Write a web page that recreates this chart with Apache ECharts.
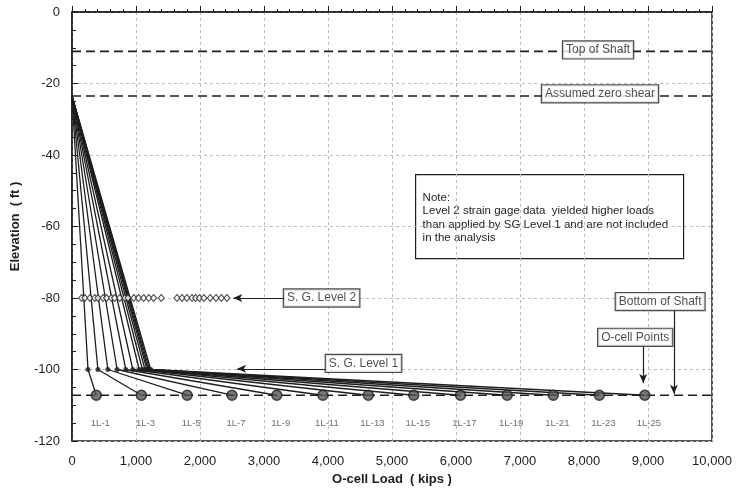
<!DOCTYPE html>
<html>
<head>
<meta charset="utf-8">
<script src="https://cdn.jsdelivr.net/npm/echarts@6/dist/echarts.min.js"></script>
<style>
  html, body { margin: 0; padding: 0; background: #fff; }
  #chart { width: 747px; height: 491px; }
</style>
</head>
<body>
<div id="chart"></div>
<script>
// Load test steps (odd-numbered loadings)
const loadTests = ['1L-1', '1L-3', '1L-5', '1L-7', '1L-9', '1L-11', '1L-13',
                   '1L-15', '1L-17', '1L-19', '1L-21', '1L-23', '1L-25'];
// Load at strain gage level 1 (kips)
const sgLevel1Load = [250, 405, 560, 705, 840, 950, 1050, 1100, 1140, 1170, 1190, 1210, 1230];
// Applied O-cell load (kips)
const oCellLoad = [380, 1085, 1800, 2500, 3200, 3920, 4630, 5340, 6070, 6800, 7520, 8240, 8950];
// Loads computed at strain gage level 2 (kips)
const sgLevel2Load = [150, 200, 280, 355, 405, 485, 540, 615, 665, 745, 825, 875, 965, 1040,
                      1120, 1200, 1275, 1395, 1640, 1720, 1795, 1875, 1930, 1990, 2060, 2160,
                      2250, 2335, 2420];

// Elevations (ft)
const elevTopShaft = -11;
const elevZeroShear = -23.5;
const elevSG2 = -80;
const elevSG1 = -100;
const elevOCell = -107.2;

// Axis ranges
const xAxisRange = [0, 10000];
const yAxisRange = [-120, 0];

const ink = '#1e1e1e';
const font = 'Arial, "Liberation Sans", sans-serif';

const chart = echarts.init(document.getElementById('chart'), null, { renderer: 'canvas' });

function refLine(y) {
  return {
    type: 'line', silent: true, symbol: 'none', z: 3,
    data: [[xAxisRange[0], y], [xAxisRange[1], y]],
    lineStyle: { color: ink, width: 1.6, type: [9, 5] }
  };
}

function boxLabel(text, x, y) {
  return {
    type: 'scatter', silent: true, symbolSize: 0, z: 20,
    data: [[x, y]],
    label: {
      show: true, position: 'inside', formatter: text,
      fontFamily: font, fontSize: 12, color: ink,
      backgroundColor: '#fff', borderColor: ink, borderWidth: 1.2,
      padding: [3, 3, 2, 3]
    }
  };
}

const series = [];

series.push(refLine(elevTopShaft));
series.push(refLine(elevZeroShear));
series.push(refLine(elevOCell));

// Load distribution curves
loadTests.forEach((name, i) => {
  series.push({
    type: 'line', name, silent: true, showSymbol: false, z: 5,
    data: [[0, elevZeroShear], [sgLevel1Load[i], elevSG1], [oCellLoad[i], elevOCell]],
    lineStyle: { color: ink, width: 1.3 }
  });
});

// Strain gage level 2 points (not used)
series.push({
  type: 'scatter', silent: true, z: 6, symbol: 'diamond', symbolSize: [6, 7],
  data: sgLevel2Load.map(v => [v, elevSG2]),
  itemStyle: { color: '#fff', borderColor: ink, borderWidth: 1 }
});

// Strain gage level 1 points
series.push({
  type: 'scatter', silent: true, z: 7, symbol: 'circle', symbolSize: 5,
  data: sgLevel1Load.map(v => [v, elevSG1]),
  itemStyle: { color: ink }
});

// O-cell points
series.push({
  type: 'scatter', silent: true, z: 7, symbol: 'circle', symbolSize: 10,
  data: oCellLoad.map(v => [v, elevOCell]),
  itemStyle: { color: '#555', borderColor: ink, borderWidth: 1.5 }
});

// Load step names beneath the O-cell points
series.push({
  type: 'scatter', silent: true, z: 8, symbolSize: 0,
  data: loadTests.map((n, i) => ({ name: n, value: [oCellLoad[i], -115] })),
  label: {
    show: true, position: 'inside', offset: [4, 0], formatter: '{b}',
    fontFamily: font, fontSize: 9.5, color: '#4a4a4a'
  }
});

// Annotation arrows
series.push({
  type: 'line', silent: true, data: [], z: 15,
  markLine: {
    silent: true, animation: false,
    symbol: ['none', 'arrow'], symbolSize: [6, 9],
    label: { show: false },
    lineStyle: { color: ink, width: 1.2, type: 'solid' },
    data: [
      [{ coord: [3330, elevSG2] }, { coord: [2520, elevSG2] }],
      [{ coord: [3990, -99.8] }, { coord: [2580, -99.8] }],
      [{ coord: [9405, -83.6] }, { coord: [9405, -106.8] }],
      [{ coord: [8925, -93.7] }, { coord: [8925, -103.8] }]
    ]
  }
});

// Labelled boxes
series.push(boxLabel('Top of Shaft', 8220, -10.6));
series.push(boxLabel('Assumed zero shear', 8250, -22.9));
series.push(boxLabel('S. G. Level 2', 3900, -80));
series.push(boxLabel('S. G. Level 1', 4555, -98.3));
series.push(boxLabel('Bottom of Shaft', 9190, -81));
series.push(boxLabel('O-cell Points', 8800, -91));

const gridLine = { show: true, lineStyle: { color: '#bdbdbd', width: 1, type: [3, 3] } };

const option = {
  animation: false,
  backgroundColor: '#fff',
  grid: {
    left: 72, right: 35, top: 12, bottom: 50,
    show: true, borderColor: ink, borderWidth: 1.5, backgroundColor: 'transparent'
  },
  xAxis: {
    type: 'value', min: xAxisRange[0], max: xAxisRange[1], interval: 1000,
    name: 'O-cell Load  ( kips )', nameLocation: 'middle', nameGap: 31,
    nameTextStyle: { fontFamily: font, fontSize: 13, fontWeight: 'bold', color: ink },
    axisLine: { show: true, lineStyle: { color: ink, width: 1.5 } },
    axisTick: { show: true, inside: true, length: 6, lineStyle: { color: ink } },
    minorTick: { show: true, splitNumber: 5, length: 3, lineStyle: { color: ink } },
    axisLabel: {
      fontFamily: font, fontSize: 13, color: ink, margin: 14,
      formatter: v => v.toLocaleString('en-US')
    },
    splitLine: gridLine
  },
  yAxis: {
    type: 'value', min: yAxisRange[0], max: yAxisRange[1], interval: 20,
    name: 'Elevation  ( ft )', nameLocation: 'middle', nameGap: 50,
    nameTextStyle: { fontFamily: font, fontSize: 13, fontWeight: 'bold', color: ink },
    axisLine: { show: true, lineStyle: { color: ink, width: 1.5 } },
    axisTick: { show: true, inside: true, length: 6, lineStyle: { color: ink } },
    minorTick: { show: true, splitNumber: 4, length: 4, lineStyle: { color: ink } },
    axisLabel: { fontFamily: font, fontSize: 13, color: ink, margin: 12 },
    splitLine: gridLine
  },
  graphic: [{
    type: 'group', left: 415, top: 174, z: 30,
    children: [
      { type: 'rect', shape: { x: 0, y: 0, width: 268, height: 84 },
        style: { fill: '#fff', stroke: ink, lineWidth: 1.2 } },
      { type: 'text', x: 7, y: 16,
        style: {
          text: 'Note:\nLevel 2 strain gage data  yielded higher loads\nthan applied by SG Level 1 and are not included\nin the analysis',
          font: '11.5px ' + font, fill: ink, lineHeight: 13.5
        } }
    ]
  }],
  series
};

chart.setOption(option);
</script>
</body>
</html>
